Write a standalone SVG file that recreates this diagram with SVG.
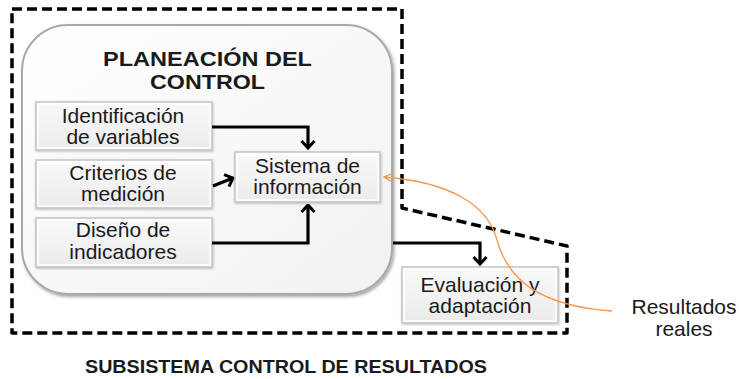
<svg xmlns="http://www.w3.org/2000/svg" width="739" height="379" viewBox="0 0 739 379">
<style>
text{font-family:"Liberation Sans",Arial,sans-serif;fill:#1a1a1a;text-anchor:middle}
.t{font-size:21px}
.b{font-weight:bold}
.box{fill:url(#boxg);stroke:#c4c4c4;stroke-width:1.5}
.bevel{fill:none;stroke:#ffffff;stroke-width:1.5}
.conn{fill:none;stroke:#000;stroke-width:3.2}
</style>
<defs>
<linearGradient id="boxg" x1="0" y1="0" x2="0" y2="1">
<stop offset="0" stop-color="#f9f9f9"/>
<stop offset="1" stop-color="#ebebeb"/>
</linearGradient>
<linearGradient id="panelg" x1="0" y1="0" x2="1" y2="1">
<stop offset="0" stop-color="#ffffff"/>
<stop offset="1" stop-color="#f1f1f1"/>
</linearGradient>
<filter id="sh" x="-10%" y="-10%" width="120%" height="120%">
<feDropShadow dx="1.5" dy="2" stdDeviation="1.5" flood-color="#000" flood-opacity="0.35"/>
</filter>
<filter id="bsh" x="-10%" y="-10%" width="120%" height="130%">
<feDropShadow dx="0.5" dy="1" stdDeviation="0.8" flood-color="#000" flood-opacity="0.25"/>
</filter>
<marker id="ah" viewBox="0 0 10 16" markerWidth="10" markerHeight="16" refX="8.5" refY="8" orient="auto" markerUnits="userSpaceOnUse">
<path d="M1.5,1.5 L8.5,8 L1.5,14.5" fill="none" stroke="#000" stroke-width="3"/>
</marker>
<marker id="oh" viewBox="0 0 10 10" markerWidth="10" markerHeight="10" refX="9" refY="5" orient="auto" markerUnits="userSpaceOnUse">
<path d="M1,1 L9,5 L1,9" fill="none" stroke="#f79646" stroke-width="1.3"/>
</marker>
</defs>
<rect width="739" height="379" fill="#fff"/>

<g id="subsistema">
<path d="M12,9 H402 V208 L567,246 V333 H12 Z" fill="none" stroke="#000" stroke-width="3.5" stroke-dasharray="10,5" stroke-linejoin="round"/>
<text class="b" x="286" y="373" font-size="19" textLength="402" lengthAdjust="spacingAndGlyphs">SUBSISTEMA CONTROL DE RESULTADOS</text>
</g>

<g id="planeacion">
<rect x="22" y="25" width="370" height="269" rx="46" ry="46" fill="url(#panelg)" stroke="#a8a8a8" stroke-width="2" filter="url(#sh)"/>
<text class="b" x="207.5" y="66" font-size="21" textLength="209" lengthAdjust="spacingAndGlyphs">PLANEACIÓN DEL</text>
<text class="b" x="207.5" y="89" font-size="21" textLength="115" lengthAdjust="spacingAndGlyphs">CONTROL</text>
</g>

<g id="identificacion">
<rect class="box" x="36" y="102" width="176" height="48" filter="url(#bsh)"/>
<rect class="bevel" x="38" y="104" width="172" height="44"/>
<text class="t" x="123" y="123">Identificación</text>
<text class="t" x="123" y="144">de variables</text>
</g>

<g id="criterios">
<rect class="box" x="36" y="160" width="176" height="48" filter="url(#bsh)"/>
<rect class="bevel" x="38" y="162" width="172" height="44"/>
<text class="t" x="123" y="180">Criterios de</text>
<text class="t" x="123" y="201">medición</text>
</g>

<g id="diseno">
<rect class="box" x="36" y="218" width="176" height="49" filter="url(#bsh)"/>
<rect class="bevel" x="38" y="220" width="172" height="45"/>
<text class="t" x="123" y="237">Diseño de</text>
<text class="t" x="123" y="259">indicadores</text>
</g>

<g id="sistema">
<rect class="box" x="235" y="152" width="145" height="50" filter="url(#bsh)"/>
<rect class="bevel" x="237" y="154" width="141" height="46"/>
<text class="t" x="307.5" y="173">Sistema de</text>
<text class="t" x="307.5" y="194">información</text>
</g>

<g id="evaluacion">
<rect class="box" x="402" y="267" width="156" height="56" filter="url(#bsh)"/>
<rect class="bevel" x="404" y="269" width="152" height="52"/>
<text class="t" x="480" y="292">Evaluación y</text>
<text class="t" x="480" y="313">adaptación</text>
</g>

<g id="resultados">
<text class="t" x="684" y="314">Resultados</text>
<text class="t" x="684" y="336">reales</text>
</g>

<g id="connectors">
<path class="conn" d="M212,127 H308 V148" marker-end="url(#ah)"/>
<path class="conn" d="M213,186 L233,178" marker-end="url(#ah)"/>
<path class="conn" d="M212,243 H308 V205" marker-end="url(#ah)"/>
<path class="conn" d="M393,243 H480 V264" marker-end="url(#ah)"/>
<path d="M612,311 C540,306 508,280 497,240 C488,205 450,182 384,177" fill="none" stroke="#f79646" stroke-width="1.3" marker-end="url(#oh)"/>
</g>
</svg>
